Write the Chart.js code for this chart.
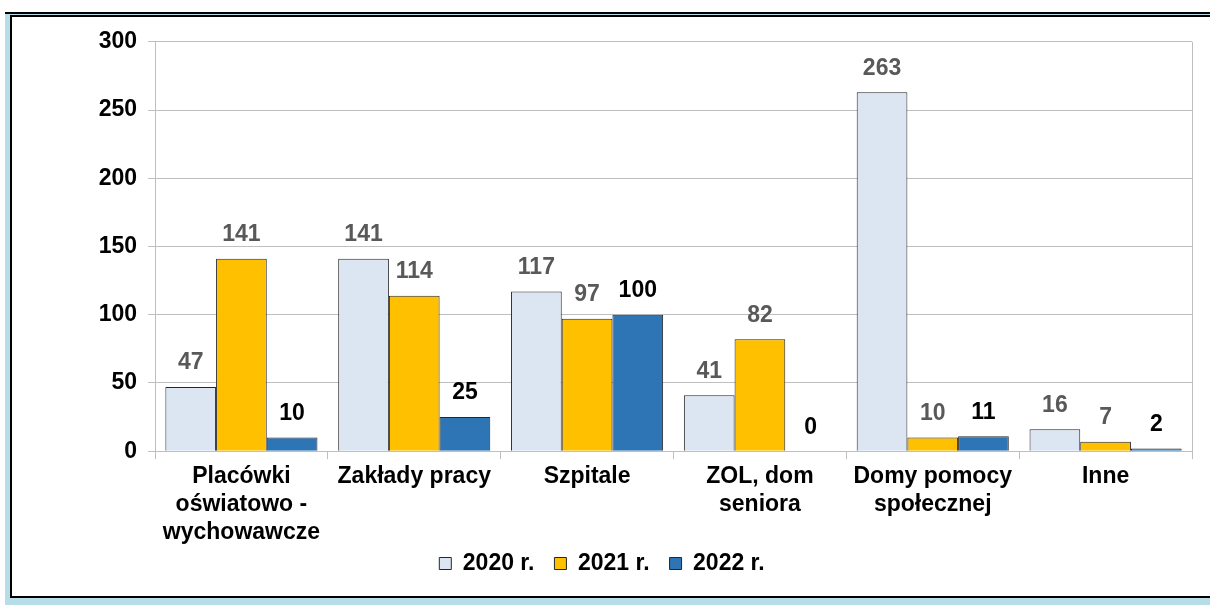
<!DOCTYPE html>
<html>
<head>
<meta charset="utf-8">
<script src="https://cdn.jsdelivr.net/npm/chart.js@4.4.0/dist/chart.umd.min.js"></script>
<style>
  html, body { margin: 0; padding: 0; background: #fff; }
  body { width: 1210px; height: 605px; position: relative; overflow: hidden; }
  #outer { position: absolute; left: 5px; top: 12px; width: 1205px; height: 591px; background: #b7dde8; border-top: 2px solid #000; }
  #inner { position: absolute; left: 10px; top: 15px; width: 1198px; height: 579px; background: #fff;
           border-left: 2px solid #000; border-top: 2px solid #000; border-bottom: 2px solid #000; }
  #wrap { position: absolute; left: 12px; top: 17px; width: 1198px; height: 579px; }
</style>
</head>
<body>
<div id="outer"></div>
<div id="inner"></div>
<div id="wrap"><canvas id="chart"></canvas></div>
<script>
const categories = [
  ['Placówki', 'oświatowo -', 'wychowawcze'],
  'Zakłady pracy',
  'Szpitale',
  ['ZOL, dom', 'seniora'],
  ['Domy pomocy', 'społecznej'],
  'Inne'
];
const values2020 = [47, 141, 117, 41, 263, 16];
const values2021 = [141, 114, 97, 82, 10, 7];
const values2022 = [10, 25, 100, 0, 11, 2];
const yTicks = [0, 50, 100, 150, 200, 250, 300];

const labelColors = ['#595959', '#595959', '#000000'];
const fontFam = '"Liberation Sans", Arial, sans-serif';

const barLabels = {
  id: 'barLabels',
  afterDatasetsDraw(chart) {
    const ctx = chart.ctx;
    ctx.save();
    ctx.font = 'bold 23px ' + fontFam;
    ctx.textAlign = 'center';
    ctx.textBaseline = 'middle';
    chart.data.datasets.forEach((ds, i) => {
      const meta = chart.getDatasetMeta(i);
      ctx.fillStyle = labelColors[i];
      meta.data.forEach((bar, j) => {
        ctx.fillText(String(ds.data[j]), bar.x, bar.y - 24);
      });
    });
    // right edge of plot area
    const a = chart.chartArea;
    ctx.strokeStyle = '#bfbfbf';
    ctx.lineWidth = 1;
    ctx.beginPath();
    ctx.moveTo(Math.round(a.right) + 0.5, a.top);
    ctx.lineTo(Math.round(a.right) + 0.5, a.bottom);
    ctx.stroke();
    ctx.restore();
  }
};

new Chart(document.getElementById('chart'), {
  type: 'bar',
  data: {
    labels: categories,
    datasets: [
      { label: '2020 r.', data: values2020, backgroundColor: '#dce6f2', borderColor: '#262626', borderWidth: 1 },
      { label: '2021 r.', data: values2021, backgroundColor: '#ffc000', borderColor: '#262626', borderWidth: 1 },
      { label: '2022 r.', data: values2022, backgroundColor: '#2e75b6', borderColor: '#262626', borderWidth: 1 }
    ]
  },
  options: {
    responsive: true,
    maintainAspectRatio: false,
    animation: false,
    categoryPercentage: 0.88,
    barPercentage: 1,
    layout: { padding: { top: 24, right: 18, bottom: 11, left: 0 } },
    plugins: {
      tooltip: { enabled: false },
      legend: {
        position: 'bottom',
        labels: {
          color: '#000',
          font: { family: fontFam, size: 23, weight: 'bold' },
          boxWidth: 12, boxHeight: 12, padding: 20
        }
      }
    },
    scales: {
      x: {
        afterFit(scale) {
          // let the third label line hang into the legend band, like the original
          scale.height = scale.height - 18;
          scale._computeLabelArea = () => null;
        },
        grid: { drawOnChartArea: false, tickLength: 8, color: '#bfbfbf' },
        border: { color: '#bfbfbf' },
        ticks: { color: '#000', font: { family: fontFam, size: 23, weight: 'bold' }, padding: 4, maxRotation: 0, autoSkip: false }
      },
      y: {
        min: 0, max: 300,
        afterFit(scale) { scale.width = 143; },
        afterBuildTicks(scale) { scale.ticks = yTicks.map(v => ({ value: v })); },
        grid: { color: '#bfbfbf', tickLength: 7 },
        border: { color: '#bfbfbf' },
        ticks: { color: '#000', font: { family: fontFam, size: 23, weight: 'bold' }, padding: 11 }
      }
    }
  },
  plugins: [barLabels]
});
</script>
</body>
</html>
